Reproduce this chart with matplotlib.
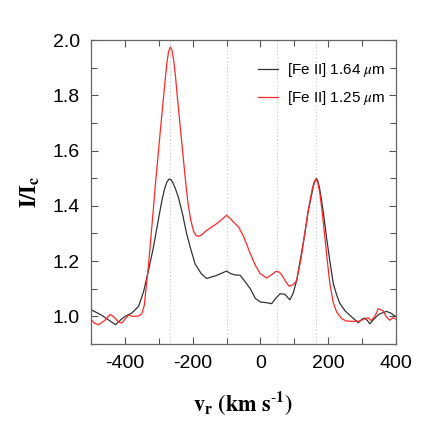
import matplotlib
matplotlib.use("Agg")
from matplotlib import pyplot as plt
from matplotlib.ticker import MultipleLocator

plt.rcParams['font.family'] = ['Liberation Sans', 'DejaVu Sans']
plt.rcParams['mathtext.fontset'] = 'stix'
plt.rcParams['axes.unicode_minus'] = False

# line centres (km/s) marked with dotted lines
line_marks = [-268, -100, 50, 165]

# [Fe II] 1.64 um profile
v_164 = [-500, -470, -440, -428, -415, -400, -380, -360, -345, -330, -316, -300, -290, -283,
         -276, -270, -264, -258, -251, -242, -230, -218, -205, -193, -175, -159, -130, -100,
         -88, -75, -60, -45, -30, -15, 0, 15, 33, 45, 58, 72, 87, 97, 107, 120, 131, 141,
         151, 156, 161, 165, 169, 174, 180, 188, 195, 205, 215, 225, 234, 250, 264, 275,
         289, 300, 308, 316, 323, 335, 350, 372, 385, 397, 400]
i_164 = [1.024, 1.005, 0.980, 0.970, 0.985, 1.000, 1.012, 1.036, 1.090, 1.170, 1.250, 1.360,
         1.425, 1.462, 1.487, 1.497, 1.495, 1.482, 1.462, 1.430, 1.370, 1.300, 1.240, 1.190,
         1.155, 1.137, 1.148, 1.164, 1.155, 1.150, 1.149, 1.125, 1.100, 1.065, 1.052, 1.050,
         1.046, 1.065, 1.082, 1.080, 1.060, 1.085, 1.130, 1.220, 1.300, 1.380, 1.440, 1.470,
         1.490, 1.499, 1.492, 1.468, 1.425, 1.355, 1.287, 1.200, 1.120, 1.078, 1.048, 1.020,
         1.004, 0.992, 0.977, 0.990, 0.994, 0.985, 0.973, 0.990, 1.008, 1.018, 1.012, 1.001,
         1.000]

# [Fe II] 1.25 um profile
v_125 = [-500, -490, -478, -460, -444, -430, -420, -409, -400, -390, -375, -360, -350, -343,
         -331, -319, -310, -301, -295, -287, -281, -276, -271, -266, -261, -256, -251, -245,
         -238, -230, -222, -214, -206, -198, -190, -183, -176, -160, -130, -110, -100, -90,
         -80, -65, -50, -31, -15, -1, 18, 32, 46, 56, 63, 75, 85, 97, 107, 120, 131, 142,
         152, 158, 164, 170, 176, 183, 190, 198, 205, 215, 225, 240, 254, 275, 293, 305,
         318, 327, 338, 348, 362, 372, 382, 392, 400]
i_125 = [0.988, 0.975, 0.970, 0.985, 1.007, 0.995, 0.980, 0.976, 0.990, 1.004, 1.000, 1.001,
         1.010, 1.040, 1.180, 1.348, 1.480, 1.600, 1.680, 1.783, 1.860, 1.920, 1.960, 1.975,
         1.962, 1.925, 1.870, 1.790, 1.700, 1.600, 1.500, 1.410, 1.350, 1.310, 1.292, 1.290,
         1.293, 1.310, 1.335, 1.355, 1.366, 1.355, 1.342, 1.324, 1.290, 1.230, 1.185, 1.155,
         1.139, 1.150, 1.163, 1.160, 1.150, 1.125, 1.109, 1.115, 1.130, 1.210, 1.300, 1.390,
         1.455, 1.485, 1.497, 1.482, 1.440, 1.370, 1.290, 1.195, 1.118, 1.050, 1.016, 0.992,
         0.983, 0.982, 0.983, 0.990, 0.995, 0.985, 1.000, 1.028, 1.020, 0.998, 0.986, 0.995,
         0.990]

fig = plt.figure(figsize=(4.36, 4.36), dpi=100)
ax = fig.add_axes([0.209, 0.211, 0.699, 0.697])

for vm in line_marks:
    ax.axvline(vm, color='#bbbbbb', linestyle=(0, (1, 2.5)), linewidth=0.7, zorder=0)

ax.plot(v_164, i_164, color='#333333', linewidth=0.9, label=r'[Fe II] 1.64 $\mu$m')
ax.plot(v_125, i_125, color='#ff2828', linewidth=0.9, label=r'[Fe II] 1.25 $\mu$m')

ax.set_xlim(-500, 400)
ax.set_ylim(0.9, 2.0)
ax.xaxis.set_major_locator(MultipleLocator(200))
ax.xaxis.set_minor_locator(MultipleLocator(100))
ax.yaxis.set_major_locator(MultipleLocator(0.2))
ax.yaxis.set_minor_locator(MultipleLocator(0.1))
ax.tick_params(which='both', direction='in', top=True, right=True, color='#555555',
               labelsize=14, width=0.8)
ax.tick_params(which='major', length=5, pad=8)
ax.tick_params(which='minor', length=4.5)
for sp in ax.spines.values():
    sp.set_color('#666666')
    sp.set_linewidth(0.9)

ax.set_xlabel(r'$\mathbf{v_r\ (km\ s^{\text{-}1})}$', fontsize=16, labelpad=12)
ax.set_ylabel(r'$\mathbf{I/I_c}$', fontsize=16, labelpad=8)

ax.legend(loc='upper right', bbox_to_anchor=(0.985, 0.95), frameon=False, fontsize=11,
          handlelength=1.25, handletextpad=0.6, labelspacing=0.65, borderaxespad=0)

fig.savefig('out.png', dpi=100)
